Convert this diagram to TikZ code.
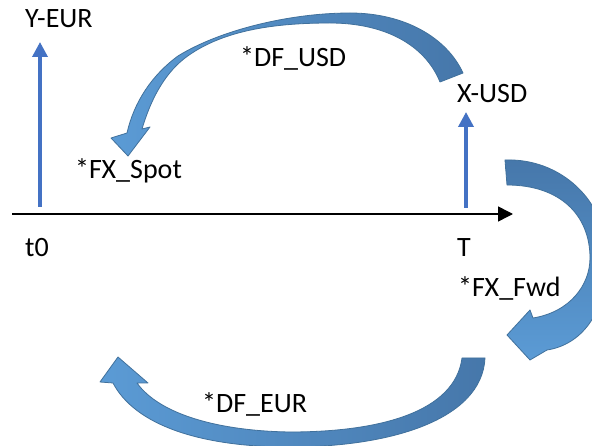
\documentclass[tikz,border=0pt]{standalone}
\usepackage{fontspec}
\setmainfont{Carlito}
\usepackage{xcolor}
\usetikzlibrary{arrows.meta}

\definecolor{flowblue}{HTML}{4472C4}
\definecolor{bandlight}{HTML}{5B9BD5}
\definecolor{banddark}{HTML}{4677AA}
\definecolor{bandedge}{HTML}{41719C}

\tikzset{
  lbl/.style={anchor=base west,inner sep=0pt,font=\fontsize{28}{33}\selectfont},
  cashflow/.style={-{Triangle[width=15pt,length=15pt]},line width=3.5pt,draw=flowblue},
  timeaxis/.style={-{Triangle[width=15pt,length=15pt]},line width=1.5pt},
  band/.style={draw=bandedge,line width=0.8pt,line join=round}
}

\begin{document}
\begin{tikzpicture}[x=1pt,y=-1pt]
  \useasboundingbox (0,0) rectangle (592,446);
  \clip (0,0) rectangle (592,446);
  \fill[white] (0,0) rectangle (592,446);

  % time line and cash flows
  \coordinate (axstart) at (12,214);
  \coordinate (axend) at (513,214);
  \draw[timeaxis] (axstart) -- (axend);
  \coordinate (eurbase) at (40,207);
  \coordinate (eurtip) at (40,42);
  \coordinate (usdbase) at (466,208);
  \coordinate (usdtip) at (466,112);
  \draw[cashflow] (eurbase) -- (eurtip);
  \draw[cashflow] (usdbase) -- (usdtip);

  % curved arrows
  \draw[band,left color=bandlight,right color=banddark]
    (463,73) .. controls (447,38) and (405,13) .. (350,13)
    .. controls (290,13) and (220,30) .. (178,56)
    .. controls (152,75) and (134,102) .. (127,133)
    -- (111,138) -- (128,156) -- (150,127) -- (142,129)
    .. controls (150,102) and (163,75) .. (185,58)
    .. controls (222,30) and (275,23) .. (330,23)
    .. controls (385,23) and (425,45) .. (440,82) -- cycle;
  \draw[band,top color=banddark,bottom color=bandlight]
    (505,160) .. controls (560,158) and (607,200) .. (607,258)
    .. controls (607,315) and (580,345) .. (547,350)
    -- (530,360) -- (507,335) -- (530,310) -- (533,318)
    .. controls (570,312) and (590,285) .. (590,258)
    .. controls (590,215) and (560,185) .. (507,185) -- cycle;
  \draw[band,left color=bandlight,right color=banddark]
    (485,358) .. controls (482,420) and (390,447) .. (290,447)
    .. controls (200,447) and (135,425) .. (113,383)
    -- (100,382) -- (118,357) -- (148,383) -- (137,383)
    .. controls (160,415) and (220,431) .. (290,432)
    .. controls (380,432) and (455,412) .. (462,358) -- cycle;

  % labels
  \node[lbl] (yeur) at (25,28) {Y-EUR};
  \node[lbl] (xusd) at (457,103) {X-USD};
  \node[lbl] (dfusd) at (240,67) {*DF\_USD};
  \node[lbl] (fxspot) at (75,179) {*FX\_Spot};
  \node[lbl] (tzero) at (25,257) {t0};
  \node[lbl] (tend) at (457,257) {T};
  \node[lbl] (fxfwd) at (458,297) {*FX\_Fwd};
  \node[lbl] (dfeur) at (202,412) {*DF\_EUR};
\end{tikzpicture}
\end{document}
